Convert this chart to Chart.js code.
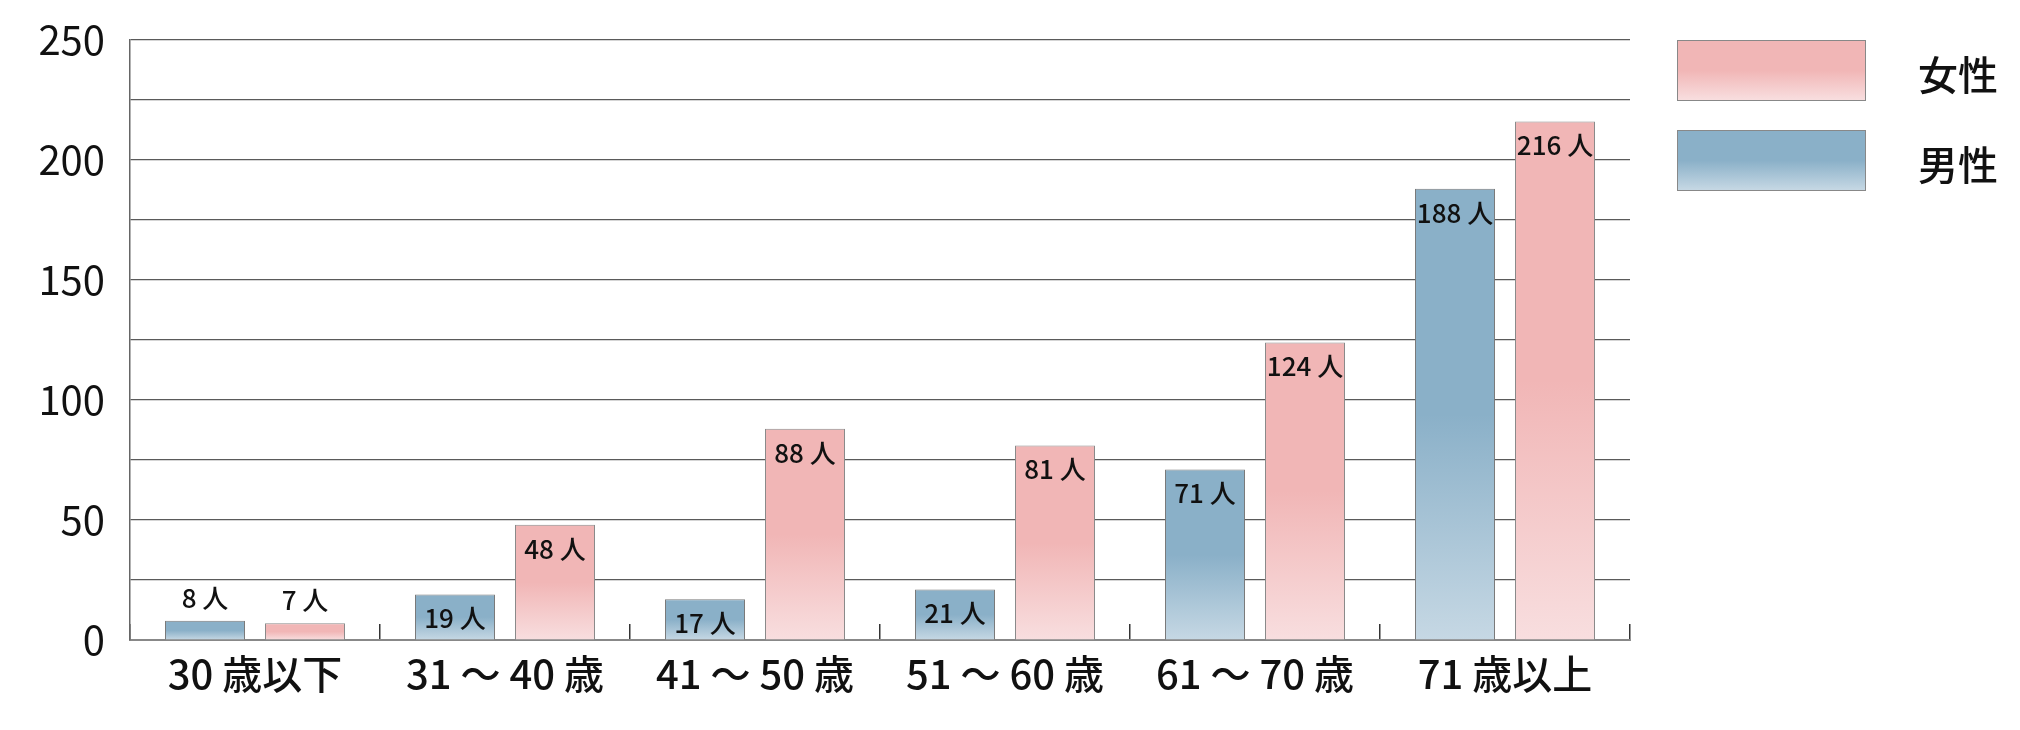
<!DOCTYPE html>
<html>
<head>
<meta charset="utf-8">
<script src="https://cdn.jsdelivr.net/npm/chart.js@4"></script>
<style>
html,body{margin:0;padding:0;background:#fff;}
#wrap{position:relative;width:2020px;height:730px;}
#c{position:absolute;left:0;top:0;}
.lg{position:absolute;left:1677px;width:187px;height:59px;border:1px solid #888;}
.lt{position:absolute;left:1918px;font-family:"Noto Sans CJK JP";font-size:40px;font-weight:500;color:#111;line-height:60px;}
</style>
</head>
<body>
<div id="wrap">
<canvas id="c" width="2020" height="730"></canvas>
<div class="lg" style="top:40px;background:linear-gradient(to bottom,#f1b6b6 0%,#f1b6b6 50%,#f8dedf 100%);"></div>
<div class="lt" style="top:43px;">女性</div>
<div class="lg" style="top:130px;background:linear-gradient(to bottom,#8ab0c8 0%,#8ab0c8 50%,#c6d8e4 100%);"></div>
<div class="lt" style="top:133px;">男性</div>
</div>
<script>
const categories = ['30 歳以下', '31 ～ 40 歳', '41 ～ 50 歳', '51 ～ 60 歳', '61 ～ 70 歳', '71 歳以上'];
const maleValues = [8, 19, 17, 21, 71, 188];
const femaleValues = [7, 48, 88, 81, 124, 216];
const seriesNames = ['男性', '女性'];
const unitSuffix = ' 人';

const FONT = '"Noto Sans CJK JP"';

function gradFill(solid, light) {
  return (ctx) => {
    const chart = ctx.chart;
    if (!chart.chartArea || ctx.type !== 'data') return solid;
    const y = chart.scales.y;
    const top = y.getPixelForValue(ctx.parsed.y);
    const base = y.getPixelForValue(0);
    if (!isFinite(top) || !isFinite(base) || base - top < 1) return solid;
    const g = chart.ctx.createLinearGradient(0, top, 0, base);
    g.addColorStop(0, solid);
    g.addColorStop(0.5, solid);
    g.addColorStop(1, light);
    return g;
  };
}

const labelPlugin = {
  id: 'barLabels',
  afterDatasetsDraw(chart) {
    const c = chart.ctx;
    c.save();
    c.font = '500 26px ' + FONT;
    c.fillStyle = '#111';
    c.textAlign = 'center';
    c.textBaseline = 'middle';
    chart.data.datasets.forEach((ds, di) => {
      const meta = chart.getDatasetMeta(di);
      meta.data.forEach((bar, i) => {
        const v = ds.data[i];
        const h = bar.base - bar.y;
        const ty = h < 30 ? bar.y - 23 : bar.y + 24;
        c.fillText(v + unitSuffix, bar.x, ty);
      });
    });
    c.restore();
  }
};

new Chart(document.getElementById('c'), {
  type: 'bar',
  data: {
    labels: categories,
    datasets: [
      {
        label: seriesNames[0],
        data: maleValues,
        backgroundColor: gradFill('#8ab0c8', '#c6d8e4'),
        borderColor: '#7a7a7a',
        borderWidth: 1
      },
      {
        label: seriesNames[1],
        data: femaleValues,
        backgroundColor: gradFill('#f1b6b6', '#f8dedf'),
        borderColor: '#8a8a8a',
        borderWidth: 1
      }
    ]
  },
  options: {
    responsive: false,
    animation: false,
    devicePixelRatio: 1,
    layout: { padding: { top: 40, right: 390, bottom: 0, left: 0 } },
    datasets: { bar: { categoryPercentage: 0.8, barPercentage: 0.8 } },
    plugins: { legend: { display: false }, tooltip: { enabled: false } },
    scales: {
      x: {
        offset: true,
        grid: {
          display: true,
          offset: true,
          drawOnChartArea: false,
          drawTicks: true,
          tickLength: -16,
          color: '#333',
          lineWidth: 1.5
        },
        border: { display: true, color: '#888', width: 2 },
        ticks: {
          color: '#111',
          font: { family: FONT, size: 40, weight: 500 },
          padding: 26,
          maxRotation: 0,
          autoSkip: false
        },
        afterFit(scale) {
          scale.height = 90;
          scale.paddingLeft = 0;
          scale.paddingRight = 0;
        }
      },
      y: {
        min: 0,
        max: 250,
        grid: { color: '#5a5a5a', lineWidth: 1.2, drawTicks: false },
        border: { display: true, color: '#666', width: 1.5 },
        ticks: {
          stepSize: 25,
          color: '#111',
          font: { family: FONT, size: 40 },
          padding: 25,
          callback: (v) => (v % 50 === 0 ? String(v) : '')
        },
        afterFit(scale) {
          scale.width = 130;
          scale.paddingTop = 0;
          scale.paddingBottom = 0;
        }
      }
    }
  },
  plugins: [labelPlugin]
});
</script>
</body>
</html>
